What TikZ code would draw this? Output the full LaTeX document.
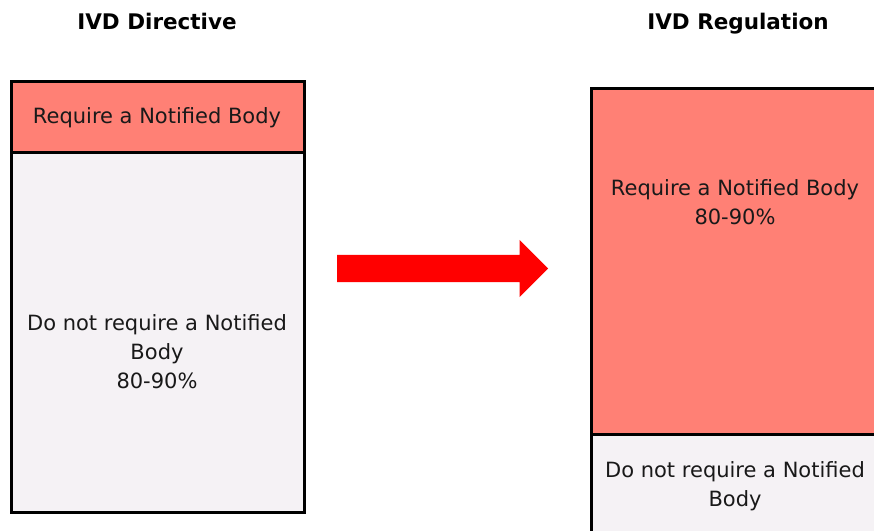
\documentclass[tikz,border=0pt]{standalone}
\usepackage{fontspec}
\setmainfont{DejaVu Sans}
\usetikzlibrary{shapes.arrows}
\definecolor{salmonbox}{HTML}{FF8075}
\definecolor{palebox}{HTML}{F5F2F5}
\begin{document}
\begin{tikzpicture}[x=1pt,y=-1pt,
  box/.style={draw=black, line width=3pt, inner sep=0pt, anchor=north west},
  boxtext/.style={font=\fontsize{21}{29}\selectfont, align=center, text=black!90},
  title/.style={font=\fontsize{21.5}{24}\selectfont\bfseries, anchor=base}]
\useasboundingbox (0,0) rectangle (874,530);
\clip (0,0) rectangle (874,530);

% titles
\node[title] (t1) at (157,29) {IVD Directive};
\node[title] (t2) at (738,29) {IVD Regulation};

% left column
\node[box, fill=palebox, minimum width=293, minimum height=360] (ldn) at (10,151) {};
\node[box, fill=salmonbox, minimum width=293, minimum height=71] (lrq) at (10,80) {};
\node[boxtext] (lrqt) at (157,118) {Require a Notified Body};
\node[boxtext] (ldnt) at (157,352) {Do not require a Notified\\Body\\80-90\%};

% right column
\node[box, fill=palebox, minimum width=290, minimum height=120] (rdn) at (590,433) {};
\node[box, fill=salmonbox, minimum width=290, minimum height=346] (rrq) at (590,87) {};
\node[boxtext] (rrqt) at (735,202) {Require a Notified Body\\80-90\%};
\node[boxtext] (rdnt) at (735,486) {Do not require a Notified\\Body};

% transition arrow
\node[single arrow, fill=red, draw=none, inner xsep=0pt, inner ysep=13.5pt,
      minimum height=211, single arrow head extend=15pt,
      anchor=west] (arr) at (337,268.5) {};
\end{tikzpicture}
\end{document}
